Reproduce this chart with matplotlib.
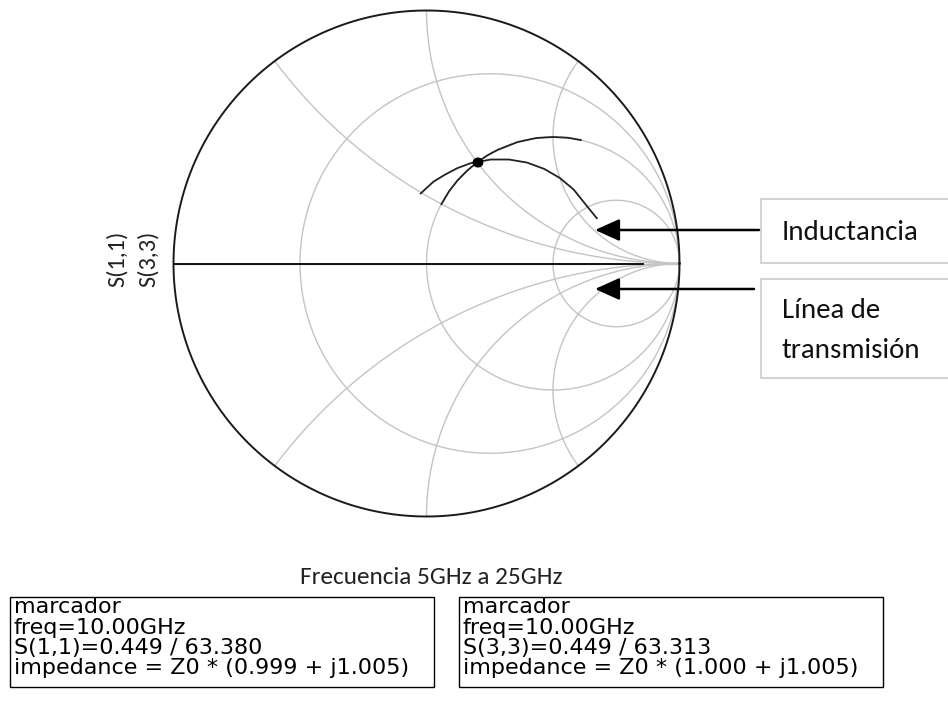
import numpy as np
import matplotlib
matplotlib.use("Agg")
import matplotlib.pyplot as plt
from matplotlib.patches import Rectangle

# ---- data -------------------------------------------------------------
# Reflection coefficient traces, 5 GHz -> 25 GHz (real, imaginary parts)
ind_re = [0.059, 0.089, 0.123, 0.161, 0.200, 0.240, 0.281, 0.360, 0.434, 0.500, 0.559, 0.610]
ind_im = [0.235, 0.285, 0.329, 0.367, 0.400, 0.427, 0.449, 0.480, 0.496, 0.500, 0.497, 0.488]

tl_re = [-0.023, 0.027, 0.071, 0.122, 0.176, 0.201, 0.254, 0.326, 0.397, 0.465, 0.527, 0.582, 0.630, 0.673]
tl_im = [0.277, 0.323, 0.350, 0.377, 0.397, 0.401, 0.411, 0.411, 0.399, 0.374, 0.338, 0.292, 0.232, 0.179]

# Marker readouts at 10 GHz
mk_labels = ["S(1,1)", "S(3,3)"]
mk_mag = [0.449, 0.449]
mk_ang = [63.380, 63.313]
mk_z = [(0.999, 1.005), (1.000, 1.005)]
mk_freq = "10.00GHz"

# Smith grid values
r_circles = [1 / 3, 1.0, 3.0]
x_arcs = [0.5, 1.0, 2.0]

W, H = 948, 708
fig = plt.figure(figsize=(W / 100, H / 100), dpi=100)

# ---- Smith chart axes --------------------------------------------------
cx, cy, R = 426.5, 263.5, 253.0
sm = fig.add_axes([(cx - R) / W, (H - cy - R) / H, 2 * R / W, 2 * R / H])
sm.set_xlim(-1, 1)
sm.set_ylim(-1, 1)
sm.axis("off")

grid_c = "#c4c4c4"
t = np.linspace(0, 2 * np.pi, 721)
for r in r_circles:
    c, rad = r / (1 + r), 1 / (1 + r)
    sm.plot(c + rad * np.cos(t), rad * np.sin(t), color=grid_c, lw=1.0, zorder=1)
for x in x_arcs:
    rr = np.concatenate([[0], np.geomspace(1e-3, 1e4, 800)])
    for s in (1, -1):
        g = (rr + 1j * s * x - 1) / (rr + 1j * s * x + 1)
        sm.plot(g.real, g.imag, color=grid_c, lw=1.0, zorder=1)
sm.plot([-1, 1], [0, 0], color=grid_c, lw=1.0, zorder=1)
sm.plot([-1, 0.856], [0, 0], color="black", lw=1.3, zorder=2)
sm.plot(np.cos(t), np.sin(t), color="#1a1a1a", lw=1.4, zorder=3, clip_on=False)

sm.plot(ind_re, ind_im, color="#222222", lw=1.3, zorder=4)
sm.plot(tl_re, tl_im, color="#222222", lw=1.3, zorder=4)
for m, a in zip(mk_mag, mk_ang):
    g = m * np.exp(1j * np.deg2rad(a))
    sm.plot([g.real], [g.imag], "o", color="black", ms=6, zorder=5)

# ---- overlay in pixel units --------------------------------------------
ov = fig.add_axes([0, 0, 1, 1], zorder=10)
ov.set_xlim(0, W)
ov.set_ylim(H, 0)
ov.axis("off")
ov.patch.set_alpha(0)

label_font = ["Carlito", "Lato", "DejaVu Sans"]
ov.text(117, 259, mk_labels[0], rotation=90, ha="center", va="center",
        fontsize=17.5, family=label_font, color="#222222")
ov.text(148, 259, mk_labels[1], rotation=90, ha="center", va="center",
        fontsize=17.5, family=label_font, color="#222222")
ov.text(431, 578, "Frecuencia 5GHz a 25GHz", ha="center", va="center",
        fontsize=18.2, family=label_font, color="#222222")

# callout boxes with arrows
box_ec = "#d4d4d4"
ov.add_patch(Rectangle((761, 199), 220, 64, fc="white", ec=box_ec, lw=1.5))
ov.add_patch(Rectangle((761, 279), 220, 99, fc="white", ec=box_ec, lw=1.5))
ov.text(782, 232, "Inductancia", ha="left", va="center", fontsize=20.8,
        family=label_font, color="#111111")
ov.text(782, 311, "Línea de", ha="left", va="center", fontsize=20.8,
        family=label_font, color="#111111")
ov.text(782, 351, "transmisión", ha="left", va="center", fontsize=20.8,
        family=label_font, color="#111111")
for ytip, xend in [(230, 759), (289, 754)]:
    ov.annotate("", xy=(595, ytip), xytext=(xend, ytip),
                arrowprops=dict(arrowstyle="-|>,head_length=1.0,head_width=0.45",
                                color="black", lw=1.8, shrinkA=0, shrinkB=0,
                                mutation_scale=15))

# marker readout boxes, one text per readout line
for i, x0 in enumerate([10, 459]):
    ov.add_patch(Rectangle((x0, 597), 424, 90, fc="white", ec="black", lw=1.0))
    zr, zi = mk_z[i]
    lines = ["marcador",
             f"freq={mk_freq}",
             f"{mk_labels[i]}={mk_mag[i]:.3f} / {mk_ang[i]:.3f}",
             f"impedance = Z0 * ({zr:.3f} + j{zi:.3f})"]
    for k, s in enumerate(lines):
        ov.text(x0 + 4, 607 + 20.5 * k, s, ha="left", va="center",
                fontsize=16.0, family="DejaVu Sans", color="black")

fig.savefig("out.png", dpi=100)
